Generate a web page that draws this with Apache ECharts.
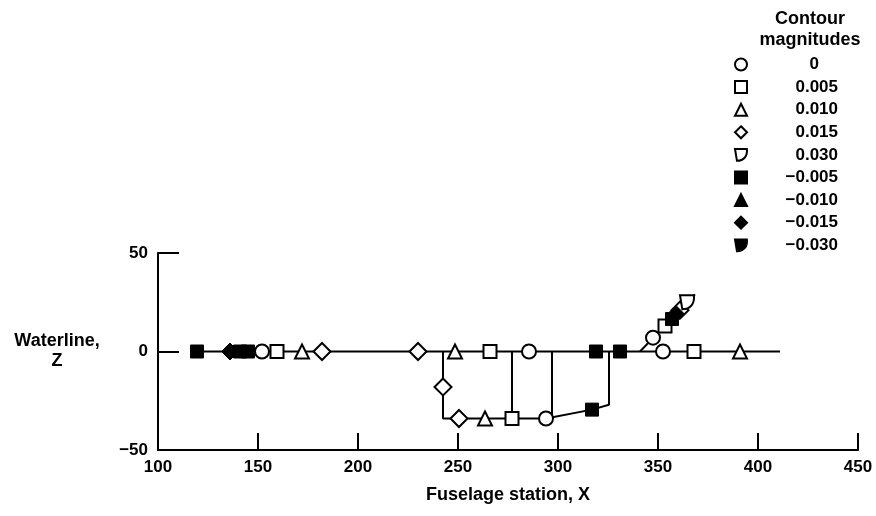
<!DOCTYPE html>
<html>
<head>
<meta charset="utf-8">
<script src="https://cdn.jsdelivr.net/npm/echarts@6/dist/echarts.min.js"></script>
<style>
  html, body { margin: 0; padding: 0; background: #fff; }
  #chart { width: 876px; height: 516px; }
</style>
</head>
<body>
<div id="chart"></div>
<script>
  // axis ranges
  const xRange = [100, 450]
  const yRange = [-50, 50]

  // contour lines (fuselage station X, waterline Z)
  const mainLine = [[119.5, 0], [411, 0]]
  const lowerPath = [[242.5, 0], [242.5, -34], [294, -34], [317, -29.5], [325.5, -27], [325.5, 0]]
  const vertA = [[277, 0], [277, -34]]
  const vertB = [[297, 0], [297, -34]]
  const branch = [[341, 0], [368.5, 29]]

  // marker points by contour magnitude
  const magnitudes = ['0', '0.005', '0.010', '0.015', '0.030', '−0.005', '−0.010', '−0.015', '−0.030']
  const pts0 = [[152, 0], [285.5, 0], [294, -34], [352.5, 0], [347.5, 7]]
  const pts005 = [[159.5, 0], [266, 0], [277, -34], [368, 0], [353.5, 13]]
  const pts010 = [[172, 0], [248.5, 0], [263.5, -34], [391, 0]]
  const pts015 = [[182, 0], [230, 0], [242.5, -18], [250.5, -34], [361, 21]]
  const pts030 = [[364.5, 25]]
  const ptsN005 = [[119.5, 0], [141, 0], [145, 0], [319, 0], [331, 0], [317, -29.5], [357, 16.5]]
  const ptsN010 = []
  const ptsN015 = [[136, 0], [359, 19]]
  const ptsN030 = []

  const font = '"Liberation Sans", Arial, sans-serif'
  const dShape = 'path://M0,0 L12,0 C13,7 9,12 2,12 Z'
  const open = { color: '#fff', borderColor: '#000', borderWidth: 2, opacity: 1 }
  const filled = { color: '#000', borderColor: '#000', borderWidth: 1, opacity: 1 }

  const markerDefs = [
    { data: pts0, symbol: 'circle', size: 14, style: open },
    { data: pts005, symbol: 'rect', size: 13, style: open },
    { data: pts010, symbol: 'triangle', size: 14, style: open },
    { data: pts015, symbol: 'diamond', size: 17, style: open },
    { data: pts030, symbol: dShape, size: 14, style: open },
    { data: ptsN005, symbol: 'rect', size: 13, style: filled },
    { data: ptsN010, symbol: 'triangle', size: 14, style: filled },
    { data: ptsN015, symbol: 'diamond', size: 17, style: filled },
    { data: ptsN030, symbol: dShape, size: 14, style: filled }
  ]

  const lineSeries = [mainLine, lowerPath, vertA, vertB, branch].map(d => ({
    type: 'line',
    data: d,
    symbol: 'none',
    silent: true,
    z: 1,
    lineStyle: { color: '#000', width: 2 }
  }))

  const markerSeries = markerDefs.map((m, i) => ({
    name: magnitudes[i],
    type: 'scatter',
    data: m.data,
    symbol: m.symbol,
    symbolSize: m.size,
    z: 3,
    itemStyle: m.style
  }))

  const chart = echarts.init(document.getElementById('chart'))
  chart.setOption({
    animation: false,
    textStyle: { fontFamily: font, color: '#000' },
    title: {
      text: 'Contour\nmagnitudes',
      left: 810,
      top: 9,
      padding: 0,
      textAlign: 'center',
      textStyle: { fontFamily: font, fontSize: 18, fontWeight: 'bold', color: '#000', lineHeight: 21 }
    },
    legend: {
      orient: 'vertical',
      left: 734,
      top: 56,
      padding: 0,
      itemWidth: 12,
      itemHeight: 12,
      itemGap: 5.6,
      data: magnitudes,
      itemStyle: { borderColor: '#000', borderWidth: 2, opacity: 1 },
      formatter: name => name === '0' ? '{c|0}' : '{r|' + name + '}',
      textStyle: {
        fontFamily: font, fontSize: 17, fontWeight: 'bold', color: '#000',
        rich: {
          r: { width: 86, align: 'right', fontSize: 17, fontWeight: 'bold', lineHeight: 18 },
          c: { width: 67, align: 'right', fontSize: 17, fontWeight: 'bold', lineHeight: 18 }
        }
      }
    },
    grid: { left: 158, right: 18, top: 253, bottom: 66 },
    xAxis: {
      type: 'value',
      min: xRange[0],
      max: xRange[1],
      interval: 50,
      name: 'Fuselage station, X',
      nameLocation: 'middle',
      nameGap: 36,
      nameTextStyle: { fontFamily: font, fontSize: 18, fontWeight: 'bold', color: '#000' },
      axisLine: { onZero: false, lineStyle: { color: '#000', width: 2 } },
      axisTick: { inside: true, length: 17, lineStyle: { color: '#000', width: 2 } },
      axisLabel: { margin: 9, fontSize: 17, fontWeight: 'bold', color: '#000' },
      splitLine: { show: false }
    },
    yAxis: {
      type: 'value',
      min: yRange[0],
      max: yRange[1],
      interval: 50,
      name: 'Waterline,\nZ',
      nameLocation: 'middle',
      nameRotate: 0,
      nameGap: 101,
      nameTextStyle: { fontFamily: font, fontSize: 18, fontWeight: 'bold', color: '#000', align: 'center', verticalAlign: 'middle', lineHeight: 20 },
      axisLine: { onZero: false, lineStyle: { color: '#000', width: 2 } },
      axisTick: { inside: true, length: 21, lineStyle: { color: '#000', width: 2 } },
      axisLabel: {
        margin: 10, fontSize: 17, fontWeight: 'bold', color: '#000',
        formatter: v => String(v).replace('-', '−')
      },
      splitLine: { show: false }
    },
    series: lineSeries.concat(markerSeries)
  })
</script>
</body>
</html>
